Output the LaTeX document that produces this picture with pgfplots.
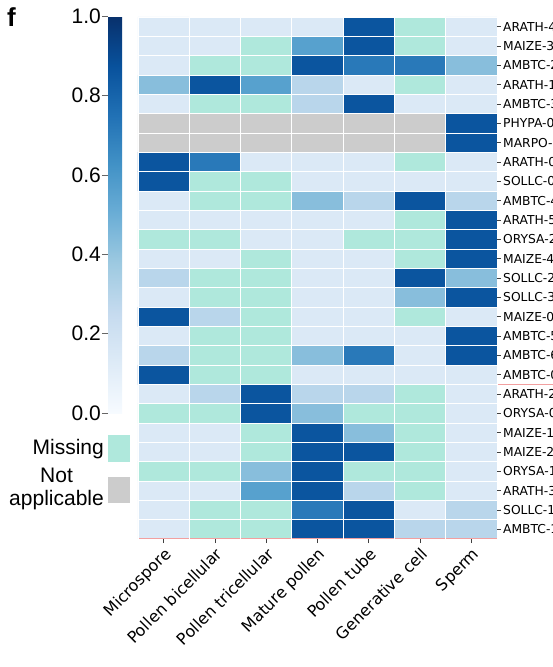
\documentclass[border=0pt]{standalone}
\usepackage{pgfplots}
\usepackage{pgfplotstable}
\pgfplotsset{compat=1.18}
\usepackage{fontspec}
\setmainfont{DejaVu Sans}
\newfontfamily\arialf{Liberation Sans}
\definecolor{mint}{HTML}{AFE8DC}
\definecolor{nagray}{HTML}{CCCCCC}
\definecolor{redline}{HTML}{F2A0A0}
% codes: -0.5 = Missing, -1.5 = Not applicable; otherwise value in [0,1]
\pgfplotstableread[row sep=\\]{
x y c\\
0 0 0.14\\ 1 0 -0.5\\ 2 0 -0.5\\ 3 0 0.86\\ 4 0 0.86\\ 5 0 0.29\\ 6 0 0.29\\
0 1 0.14\\ 1 1 -0.5\\ 2 1 -0.5\\ 3 1 0.72\\ 4 1 0.86\\ 5 1 0.14\\ 6 1 0.29\\
0 2 0.14\\ 1 2 0.14\\ 2 2 0.56\\ 3 2 0.86\\ 4 2 0.29\\ 5 2 -0.5\\ 6 2 0.14\\
0 3 -0.5\\ 1 3 -0.5\\ 2 3 0.43\\ 3 3 0.86\\ 4 3 -0.5\\ 5 3 -0.5\\ 6 3 0.14\\
0 4 0.14\\ 1 4 0.14\\ 2 4 -0.5\\ 3 4 0.86\\ 4 4 0.86\\ 5 4 -0.5\\ 6 4 0.14\\
0 5 0.14\\ 1 5 0.14\\ 2 5 -0.5\\ 3 5 0.86\\ 4 5 0.43\\ 5 5 -0.5\\ 6 5 0.14\\
0 6 -0.5\\ 1 6 -0.5\\ 2 6 0.86\\ 3 6 0.43\\ 4 6 -0.5\\ 5 6 -0.5\\ 6 6 0.14\\
0 7 0.14\\ 1 7 0.29\\ 2 7 0.86\\ 3 7 0.29\\ 4 7 0.29\\ 5 7 -0.5\\ 6 7 0.14\\
0 8 0.86\\ 1 8 -0.5\\ 2 8 -0.5\\ 3 8 0.14\\ 4 8 0.14\\ 5 8 0.14\\ 6 8 0.14\\
0 9 0.29\\ 1 9 -0.5\\ 2 9 -0.5\\ 3 9 0.43\\ 4 9 0.72\\ 5 9 0.14\\ 6 9 0.86\\
0 10 0.14\\ 1 10 -0.5\\ 2 10 -0.5\\ 3 10 0.14\\ 4 10 0.14\\ 5 10 0.14\\ 6 10 0.86\\
0 11 0.86\\ 1 11 0.29\\ 2 11 -0.5\\ 3 11 0.14\\ 4 11 0.14\\ 5 11 -0.5\\ 6 11 0.14\\
0 12 0.14\\ 1 12 -0.5\\ 2 12 -0.5\\ 3 12 0.14\\ 4 12 0.14\\ 5 12 0.43\\ 6 12 0.86\\
0 13 0.29\\ 1 13 -0.5\\ 2 13 -0.5\\ 3 13 0.14\\ 4 13 0.14\\ 5 13 0.86\\ 6 13 0.43\\
0 14 0.14\\ 1 14 0.14\\ 2 14 -0.5\\ 3 14 0.14\\ 4 14 0.14\\ 5 14 -0.5\\ 6 14 0.86\\
0 15 -0.5\\ 1 15 -0.5\\ 2 15 0.14\\ 3 15 0.14\\ 4 15 -0.5\\ 5 15 -0.5\\ 6 15 0.86\\
0 16 0.14\\ 1 16 0.14\\ 2 16 0.14\\ 3 16 0.14\\ 4 16 0.14\\ 5 16 -0.5\\ 6 16 0.86\\
0 17 0.14\\ 1 17 -0.5\\ 2 17 -0.5\\ 3 17 0.43\\ 4 17 0.29\\ 5 17 0.86\\ 6 17 0.29\\
0 18 0.86\\ 1 18 -0.5\\ 2 18 -0.5\\ 3 18 0.14\\ 4 18 0.14\\ 5 18 0.14\\ 6 18 0.14\\
0 19 0.86\\ 1 19 0.72\\ 2 19 0.14\\ 3 19 0.14\\ 4 19 0.14\\ 5 19 -0.5\\ 6 19 0.14\\
0 20 -1.5\\ 1 20 -1.5\\ 2 20 -1.5\\ 3 20 -1.5\\ 4 20 -1.5\\ 5 20 -1.5\\ 6 20 0.86\\
0 21 -1.5\\ 1 21 -1.5\\ 2 21 -1.5\\ 3 21 -1.5\\ 4 21 -1.5\\ 5 21 -1.5\\ 6 21 0.86\\
0 22 0.14\\ 1 22 -0.5\\ 2 22 -0.5\\ 3 22 0.29\\ 4 22 0.86\\ 5 22 0.14\\ 6 22 0.14\\
0 23 0.43\\ 1 23 0.86\\ 2 23 0.56\\ 3 23 0.29\\ 4 23 0.14\\ 5 23 -0.5\\ 6 23 0.14\\
0 24 0.14\\ 1 24 -0.5\\ 2 24 -0.5\\ 3 24 0.86\\ 4 24 0.72\\ 5 24 0.72\\ 6 24 0.43\\
0 25 0.14\\ 1 25 0.14\\ 2 25 -0.5\\ 3 25 0.56\\ 4 25 0.86\\ 5 25 -0.5\\ 6 25 0.14\\
0 26 0.14\\ 1 26 0.14\\ 2 26 0.14\\ 3 26 0.14\\ 4 26 0.86\\ 5 26 -0.5\\ 6 26 0.14\\
}\heatdata
\begin{document}
\begin{tikzpicture}[x=1pt,y=1pt]
\useasboundingbox (0,0) rectangle (553,-667);
% main heatmap
\begin{axis}[
  scale only axis, width=359pt, height=522pt,
  at={(138pt,-17pt)}, anchor=north west,
  xmin=-0.5, xmax=6.5, ymin=-0.5, ymax=26.5,
  clip=false,
  axis line style={draw=none},
  xtick={0,1,2,3,4,5,6},
  xticklabels={Microspore,Pollen bicellular,Pollen tricellular,Mature pollen,Pollen tube,Generative cell,Sperm},
  ytick={0,1,...,26},
  yticklabels={AMBTC-1,SOLLC-1,ARATH-3,ORYSA-1,MAIZE-2,MAIZE-1,ORYSA-0,ARATH-2,AMBTC-0,AMBTC-6,AMBTC-5,MAIZE-0,SOLLC-3,SOLLC-2,MAIZE-4,ORYSA-2,ARATH-5,AMBTC-4,SOLLC-0,ARATH-0,MARPO-0,PHYPA-0,AMBTC-3,ARATH-1,AMBTC-2,MAIZE-3,ARATH-4},
  xtick pos=left, ytick pos=right, yticklabel pos=right,
  tick align=outside, major tick length=4pt,
  tick style={black!75, line width=0.6pt},
  minor xtick={-0.5,0.5,...,6.5}, minor ytick={-0.5,0.5,...,26.5},
  minor tick length=0pt,
  xminorgrids=true, yminorgrids=true,
  minor grid style={white, line width=0.9pt},
  axis on top,
  xticklabel style={rotate=45, anchor=north east, inner sep=2.5pt, font=\fontsize{16}{18}\selectfont},
  yticklabel style={font=\fontsize{12.3}{14}\selectfont, inner sep=2pt},
  point meta min=-2, point meta max=1,
  colormap={heat}{
    color(0pt)=(nagray); color(99pt)=(nagray);
    color(100pt)=(mint); color(199pt)=(mint);
    rgb255(200pt)=(247,251,255); rgb255(212.5pt)=(222,235,247);
    rgb255(225pt)=(198,219,239); rgb255(237.5pt)=(158,202,225);
    rgb255(250pt)=(107,174,214); rgb255(262.5pt)=(66,146,198);
    rgb255(275pt)=(33,113,181); rgb255(287.5pt)=(8,81,156);
    rgb255(300pt)=(8,48,107)
  },
]
\addplot[matrix plot*, mesh/cols=7, point meta=explicit] table[x=x, y=y, meta=c] {\heatdata};
\draw[redline, line width=1.2pt] (axis cs:-0.5,7.5) -- (axis cs:8.2,7.5);
\draw[redline, line width=1.2pt] (axis cs:-0.5,-0.5) -- (axis cs:6.5,-0.5);
\end{axis}
% colorbar
\begin{axis}[
  hide axis, scale only axis, width=22pt, height=397pt,
  at={(108pt,-16pt)}, anchor=north west,
  xmin=0, xmax=1, ymin=0, ymax=1,
  point meta min=0, point meta max=1,
  colormap={blues}{
    rgb255(0pt)=(247,251,255); rgb255(1pt)=(222,235,247);
    rgb255(2pt)=(198,219,239); rgb255(3pt)=(158,202,225);
    rgb255(4pt)=(107,174,214); rgb255(5pt)=(66,146,198);
    rgb255(6pt)=(33,113,181); rgb255(7pt)=(8,81,156);
    rgb255(8pt)=(8,48,107)
  },
  colorbar,
  colorbar shift/.style={xshift=0pt},
  colorbar style={
    at={(parent axis.north west)}, anchor=north west,
    xshift=0pt,
    scale only axis, width=21pt, height=397pt,
    ytick={0,0.2,0.4,0.6,0.8,1},
    ytick pos=left, yticklabel pos=left,
    axis line style={draw=none},
    tick align=outside, major tick length=6pt,
    tick style={black!60, line width=0.6pt},
    /pgf/number format/assume math mode=true,
    yticklabel style={font=\arialf\fontsize{21}{24}\selectfont, inner sep=1pt,
      /pgf/number format/.cd, fixed, fixed zerofill, precision=1},
  },
]
\addplot[draw=none] coordinates {(0.5,0.5)};
\end{axis}
% legend for special categories
\fill[mint] (108,-435) rectangle (130,-462);
\fill[nagray] (108,-477) rectangle (130,-503);
\node[anchor=east, inner sep=0pt, font=\arialf\fontsize{21}{24}\selectfont] at (104,-449) {Missing};
\node[anchor=east, align=center, inner sep=0pt, font=\arialf\fontsize{21}{23.5}\selectfont] at (104,-489) {Not\\applicable};
\node[anchor=north west, inner sep=0pt, font=\arialf\bfseries\fontsize{26}{28}\selectfont] at (7,-7) {f};
\end{tikzpicture}
\end{document}
